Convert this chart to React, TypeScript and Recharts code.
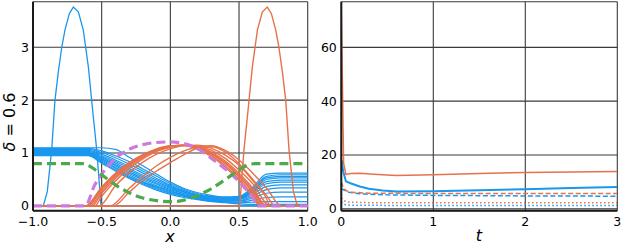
import React from "react";
import { LineChart, Line, XAxis, YAxis, CartesianGrid } from "recharts";

// ---------- Left panel data (x in [-1, 1]) ----------
const xTicksLeft = [-1, -0.5, 0, 0.5, 1];
const yTicksLeft = [0, 1, 2, 3];

const blueX = [-1, -0.6, -0.5, -0.4, -0.3, -0.2, -0.1, 0, 0.1, 0.2, 0.3, 0.4, 0.5, 0.6, 0.7, 0.8, 1];
const blueFamily = [
  [1.1, 1.1, 1.1, 1.07, 0.92, 0.76, 0.6, 0.45, 0.33, 0.25, 0.2, 0.17, 0.18, 0.36, 0.6, 0.62, 0.62],
  [1.09, 1.09, 1.04, 0.95, 0.84, 0.7, 0.56, 0.42, 0.31, 0.23, 0.18, 0.16, 0.17, 0.33, 0.56, 0.59, 0.59],
  [1.07, 1.07, 1.01, 0.91, 0.79, 0.66, 0.52, 0.39, 0.29, 0.21, 0.17, 0.15, 0.16, 0.31, 0.53, 0.56, 0.56],
  [1.05, 1.05, 0.98, 0.87, 0.75, 0.62, 0.49, 0.37, 0.27, 0.2, 0.16, 0.14, 0.15, 0.29, 0.5, 0.53, 0.53],
  [1.03, 1.03, 0.95, 0.84, 0.71, 0.58, 0.46, 0.35, 0.26, 0.19, 0.15, 0.13, 0.14, 0.27, 0.46, 0.49, 0.49],
  [1.01, 1.01, 0.93, 0.81, 0.68, 0.55, 0.43, 0.33, 0.24, 0.18, 0.14, 0.12, 0.13, 0.25, 0.42, 0.45, 0.45],
  [1.0, 1.0, 0.91, 0.78, 0.65, 0.52, 0.41, 0.31, 0.23, 0.17, 0.13, 0.11, 0.12, 0.22, 0.37, 0.4, 0.4],
  [0.99, 0.99, 0.89, 0.76, 0.62, 0.49, 0.38, 0.29, 0.21, 0.16, 0.12, 0.1, 0.1, 0.19, 0.31, 0.34, 0.34],
  [0.98, 0.98, 0.87, 0.73, 0.59, 0.46, 0.36, 0.27, 0.2, 0.15, 0.11, 0.09, 0.09, 0.15, 0.24, 0.26, 0.26],
  [0.97, 0.97, 0.85, 0.71, 0.56, 0.44, 0.34, 0.25, 0.19, 0.14, 0.1, 0.08, 0.07, 0.11, 0.16, 0.17, 0.17],
  [0.96, 0.96, 0.83, 0.68, 0.54, 0.42, 0.32, 0.24, 0.18, 0.13, 0.09, 0.07, 0.06, 0.07, 0.08, 0.08, 0.08],
  [0.95, 0.95, 0.81, 0.66, 0.52, 0.4, 0.3, 0.22, 0.16, 0.12, 0.08, 0.06, 0.04, 0.03, 0.03, 0.03, 0.03],
];

const blueSpike = [
  [-1, 0], [-0.925, 0], [-0.896, 0.27], [-0.864, 1.06], [-0.84, 2.0], [-0.815, 2.55], [-0.79, 3.01],
  [-0.767, 3.33], [-0.735, 3.64], [-0.706, 3.76], [-0.67, 3.67], [-0.634, 3.33], [-0.597, 2.63],
  [-0.561, 1.69], [-0.536, 1.06], [-0.505, 0], [1, 0],
];

const orangeSpike = [
  [-1, 0], [0.505, 0], [0.536, 1.06], [0.561, 1.69], [0.597, 2.63], [0.634, 3.33], [0.67, 3.67],
  [0.706, 3.76], [0.735, 3.64], [0.767, 3.33], [0.79, 3.01], [0.815, 2.55], [0.84, 2.0],
  [0.864, 1.06], [0.896, 0.27], [0.925, 0], [1, 0],
];

const orange1 = [[-1, 0], [-0.62, 0], [-0.5, 0.36], [-0.4, 0.62], [-0.3, 0.82], [-0.2, 0.97], [-0.1, 1.08], [0, 1.14], [0.1, 1.14], [0.2, 1.07], [0.3, 0.93], [0.4, 0.73], [0.5, 0.48], [0.6, 0.17], [0.653, 0], [1, 0]];
const orange2 = [[-1, 0], [-0.61, 0], [-0.5, 0.34], [-0.4, 0.6], [-0.3, 0.81], [-0.2, 0.96], [-0.1, 1.07], [0, 1.13], [0.1, 1.14], [0.2, 1.08], [0.3, 0.95], [0.4, 0.76], [0.5, 0.51], [0.6, 0.21], [0.665, 0], [1, 0]];
const orange3 = [[-1, 0], [-0.6, 0], [-0.5, 0.32], [-0.4, 0.58], [-0.3, 0.79], [-0.2, 0.95], [-0.1, 1.07], [0, 1.13], [0.1, 1.15], [0.2, 1.1], [0.3, 0.98], [0.4, 0.8], [0.5, 0.55], [0.6, 0.26], [0.677, 0], [1, 0]];
const orange4 = [[-1, 0], [-0.585, 0], [-0.5, 0.28], [-0.4, 0.55], [-0.3, 0.77], [-0.2, 0.94], [-0.1, 1.06], [0, 1.13], [0.1, 1.15], [0.2, 1.11], [0.3, 1.0], [0.4, 0.82], [0.5, 0.58], [0.6, 0.3], [0.69, 0], [1, 0]];
const orange5 = [[-1, 0], [-0.57, 0], [-0.5, 0.24], [-0.4, 0.52], [-0.3, 0.75], [-0.2, 0.92], [-0.1, 1.05], [0, 1.12], [0.1, 1.15], [0.2, 1.12], [0.3, 1.02], [0.4, 0.85], [0.5, 0.62], [0.6, 0.34], [0.7, 0], [1, 0]];
const orange6 = [[-1, 0], [-0.55, 0], [-0.5, 0.18], [-0.4, 0.47], [-0.3, 0.71], [-0.2, 0.89], [-0.1, 1.03], [0, 1.11], [0.1, 1.15], [0.2, 1.13], [0.3, 1.05], [0.4, 0.9], [0.5, 0.68], [0.6, 0.42], [0.726, 0], [1, 0]];
const orange7 = [[-1, 0], [-0.52, 0], [-0.4, 0.38], [-0.3, 0.63], [-0.2, 0.83], [-0.1, 0.98], [0, 1.08], [0.1, 1.14], [0.2, 1.15], [0.3, 1.09], [0.4, 0.96], [0.5, 0.77], [0.6, 0.48], [0.7, 0.14], [0.726, 0], [1, 0]];
const orange8 = [[-1, 0], [-0.44, 0], [-0.3, 0.33], [-0.2, 0.56], [-0.1, 0.76], [0, 0.92], [0.1, 1.04], [0.2, 1.12], [0.3, 1.14], [0.4, 1.05], [0.5, 0.87], [0.6, 0.62], [0.7, 0.34], [0.811, 0], [1, 0]];
const orange9 = [[-1, 0], [-0.415, 0], [-0.3, 0.26], [-0.2, 0.48], [-0.1, 0.66], [0, 0.82], [0.1, 0.97], [0.2, 1.09], [0.3, 1.12], [0.4, 1.02], [0.5, 0.8], [0.6, 0.5], [0.7, 0.2], [0.763, 0], [1, 0]];
const orangeFamily = [orange1, orange2, orange3, orange4, orange5, orange6, orange7, orange8, orange9];

const greenDashed = [[-1, 0.8], [-0.64, 0.8], [-0.6, 0.77], [-0.55, 0.69], [-0.5, 0.59], [-0.4, 0.4], [-0.3, 0.25], [-0.2, 0.15], [-0.1, 0.1], [0, 0.08], [0.1, 0.11], [0.2, 0.2], [0.3, 0.33], [0.4, 0.5], [0.5, 0.68], [0.56, 0.77], [0.62, 0.8], [1, 0.8]];
const purpleDashed = [[-1, 0], [-0.62, 0], [-0.55, 0.4], [-0.5, 0.6], [-0.4, 0.9], [-0.3, 1.07], [-0.2, 1.16], [-0.1, 1.2], [0, 1.21], [0.1, 1.18], [0.2, 1.08], [0.3, 0.9], [0.4, 0.7], [0.5, 0.46], [0.6, 0.15], [0.64, 0], [1, 0]];

// ---------- Right panel data (t in [0, 3]) ----------
const xTicksRight = [0, 1, 2, 3];
const yTicksRight = [0, 20, 40, 60];

const orangeSolidT = [[0, 75], [0.025, 17], [0.05, 12.8], [0.1, 13.1], [0.2, 13.2], [0.4, 12.8], [0.6, 12.4], [1, 12.7], [1.5, 13.1], [2, 13.5], [2.5, 13.7], [3, 13.9]];
const blueSolidT = [[0.005, 18], [0.02, 14], [0.05, 10.2], [0.1, 9.5], [0.2, 8.3], [0.3, 7.5], [0.45, 6.8], [0.6, 6.4], [1, 6.5], [1.5, 6.9], [2, 7.3], [2.5, 7.7], [3, 8.1]];
const orangeDashedT = [[0, 10], [0.02, 8], [0.05, 6.8], [0.1, 6.2], [0.3, 5.8], [1, 5.7], [2, 5.7], [3, 5.7]];
const blueDashedT = [[0, 7.5], [0.03, 7], [0.08, 6.2], [0.2, 5.6], [0.5, 5.2], [1, 5.0], [2, 4.8], [3, 4.7]];
const orangeDottedT = [[0, 4], [0.03, 3], [0.08, 2.5], [0.3, 2.3], [3, 2.3]];
const blueDottedT = [[0, 2.5], [0.03, 1.6], [0.1, 1.3], [3, 1.2]];

// ---------- styling ----------
const BLUE = "#1897ee";
const ORANGE = "#e8714a";
const GREEN = "#4caa4c";
const PURPLE = "#cc7bdc";
const FONT = "DejaVu Sans";

const toPts = (arr: number[][]) => arr.map(([x, y]) => ({ x, y }));
const fmtLeft = (v: number) => (v < 0 ? "\u2212" : "") + Math.abs(v).toFixed(1);

const tickStyle = { fontSize: 12.5, fill: "#000", fontFamily: FONT };
const axisLineStyle = { stroke: "#1a1a1a", strokeWidth: 2 };

export default function App() {
  return (
    <div style={{ position: "absolute", left: 0, top: 0, width: 623, height: 249, background: "#fff" }}>
      <div style={{ position: "absolute", left: 0, top: 0 }}>
        <LineChart width={320} height={249} margin={{ top: 1.7, right: 12.3, bottom: 0, left: 0 }}>
          <CartesianGrid stroke="#3a3a3a" strokeWidth={1.1} />
          <XAxis
            type="number"
            dataKey="x"
            domain={[-1, 1]}
            ticks={xTicksLeft}
            tickFormatter={fmtLeft}
            interval={0}
            allowDataOverflow
            height={38.3}
            tickLine={false}
            tickSize={3}
            tickMargin={3}
            axisLine={axisLineStyle}
            tick={tickStyle}
          />
          <YAxis
            type="number"
            domain={[-0.09, 3.862]}
            ticks={yTicksLeft}
            interval={0}
            allowDataOverflow
            width={33}
            tickLine={false}
            tickSize={2}
            tickMargin={2}
            axisLine={axisLineStyle}
            tick={tickStyle}
          />
          {blueFamily.map((ys, i) => (
            <Line
              key={"b" + i}
              data={blueX.map((x, j) => ({ x, y: ys[j] }))}
              dataKey="y"
              type="monotone"
              stroke={BLUE}
              strokeWidth={1.2}
              dot={false}
              activeDot={false}
              isAnimationActive={false}
            />
          ))}
          <Line data={toPts(blueSpike)} dataKey="y" type="linear" stroke={BLUE} strokeWidth={1.3} dot={false} activeDot={false} isAnimationActive={false} />
          {orangeFamily.map((pts, i) => (
            <Line
              key={"o" + i}
              data={toPts(pts)}
              dataKey="y"
              type="monotone"
              stroke={ORANGE}
              strokeWidth={1.4}
              dot={false}
              activeDot={false}
              isAnimationActive={false}
            />
          ))}
          <Line data={toPts(orangeSpike)} dataKey="y" type="linear" stroke={ORANGE} strokeWidth={1.4} dot={false} activeDot={false} isAnimationActive={false} />
          <Line data={toPts(purpleDashed)} dataKey="y" type="monotone" stroke={PURPLE} strokeWidth={3.2} strokeDasharray="9 5" dot={false} activeDot={false} isAnimationActive={false} />
          <Line data={toPts(greenDashed)} dataKey="y" type="monotone" stroke={GREEN} strokeWidth={3.2} strokeDasharray="9 5" dot={false} activeDot={false} isAnimationActive={false} />
        </LineChart>
      </div>

      <div style={{ position: "absolute", left: 320, top: 0 }}>
        <LineChart width={303} height={249} margin={{ top: 1.7, right: 5.7, bottom: 0, left: 0 }}>
          <CartesianGrid stroke="#3a3a3a" strokeWidth={1.1} />
          <XAxis
            type="number"
            dataKey="x"
            domain={[0, 3]}
            ticks={xTicksRight}
            interval={0}
            allowDataOverflow
            height={38.3}
            tickLine={false}
            tickSize={3}
            tickMargin={3}
            axisLine={axisLineStyle}
            tick={tickStyle}
          />
          <YAxis
            type="number"
            domain={[-0.69, 76.95]}
            ticks={yTicksRight}
            interval={0}
            allowDataOverflow
            width={21.3}
            tickLine={false}
            tickSize={2}
            tickMargin={2.5}
            axisLine={axisLineStyle}
            tick={tickStyle}
          />
          <Line data={toPts(blueDottedT)} dataKey="y" type="linear" stroke={BLUE} strokeWidth={1.5} strokeDasharray="1.5 2.5" dot={false} activeDot={false} isAnimationActive={false} />
          <Line data={toPts(orangeDottedT)} dataKey="y" type="linear" stroke={ORANGE} strokeWidth={1.5} strokeDasharray="1.5 2.5" dot={false} activeDot={false} isAnimationActive={false} />
          <Line data={toPts(blueDashedT)} dataKey="y" type="linear" stroke={BLUE} strokeWidth={1.5} strokeDasharray="5 2.5" dot={false} activeDot={false} isAnimationActive={false} />
          <Line data={toPts(orangeDashedT)} dataKey="y" type="linear" stroke={ORANGE} strokeWidth={1.5} strokeDasharray="5 2.5" dot={false} activeDot={false} isAnimationActive={false} />
          <Line data={toPts(blueSolidT)} dataKey="y" type="linear" stroke={BLUE} strokeWidth={2} dot={false} activeDot={false} isAnimationActive={false} />
          <Line data={toPts(orangeSolidT)} dataKey="y" type="linear" stroke={ORANGE} strokeWidth={1.5} dot={false} activeDot={false} isAnimationActive={false} />
        </LineChart>
      </div>

      <div style={{ position: "absolute", left: 170, top: 237, transform: "translate(-50%, -50%)", fontFamily: FONT, fontStyle: "italic", fontSize: 16, lineHeight: 1 }}>x</div>
      <div style={{ position: "absolute", left: 479, top: 236, transform: "translate(-50%, -50%)", fontFamily: FONT, fontStyle: "italic", fontSize: 16, lineHeight: 1 }}>t</div>
      <div style={{ position: "absolute", left: 10, top: 122, transform: "translate(-50%, -50%) rotate(-90deg)", fontFamily: FONT, fontSize: 16, lineHeight: 1, whiteSpace: "nowrap" }}>
        <span style={{ fontStyle: "italic" }}>δ</span> = 0.6
      </div>
    </div>
  );
}
